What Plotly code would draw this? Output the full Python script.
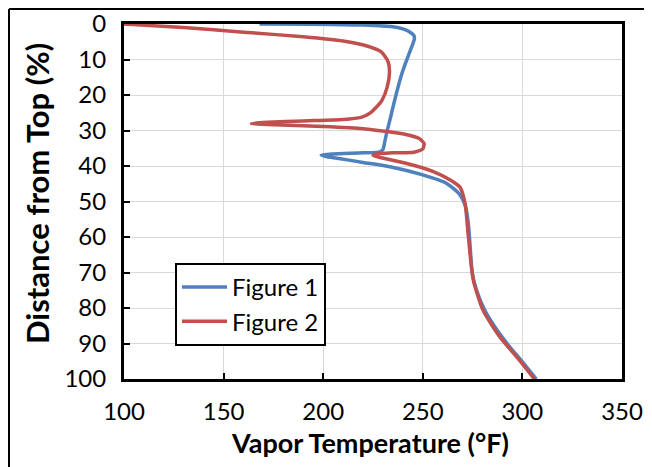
import plotly.graph_objects as go

# Figure 1 (blue)
fig1_temp = [168, 195, 220, 235, 242, 245.5, 245.8, 243.5, 241, 239.2, 237, 235.2, 233.5, 231.8, 230.8, 230, 228.5,
             220, 205, 199, 202, 207, 220, 233.5, 250, 262, 268.5, 271.5, 273, 273.8, 274.8, 277, 281, 287, 293, 300, 307]
fig1_dist = [0, 0.05, 0.3, 0.8, 1.8, 3.2, 4.2, 7.8, 11.5, 14.5, 19, 23, 27, 30.8, 33.5, 35.3, 36.0,
             36.3, 36.6, 36.9, 37.4, 37.8, 39, 40.2, 42.5, 44.9, 48, 51.5, 57, 63, 70, 75, 80.5, 86, 90.5, 95.2, 100]

# Figure 2 (red)
fig2_temp = [100, 130, 160, 190, 210, 222, 229, 232.5, 233.3, 232, 229.5, 226.5, 223, 219, 210, 190, 172, 164,
             172, 200, 220, 232, 242, 248, 250.6, 250, 245.5, 235, 226, 225, 228.5, 242, 255, 264, 268.7, 271.2,
             272.9, 275.3, 280.2, 288.5, 298.5, 306]
fig2_dist = [0, 1.0, 2.3, 3.6, 4.8, 6.2, 7.8, 10.5, 13.5, 18, 21.5, 23.5, 25.3, 26.3, 26.9, 27.3, 27.7, 28.0,
             28.3, 28.9, 29.5, 30.3, 31.2, 32.2, 33.6, 35.2, 36.1, 36.3, 36.7, 37.0, 37.6, 39.3, 41.5, 44, 46, 50.5,
             60, 72, 80.6, 88, 94.7, 100]

x_ticks = [100, 150, 200, 250, 300, 350]
y_ticks = [0, 10, 20, 30, 40, 50, 60, 70, 80, 90, 100]

FONT = "Lato"
TICK_SIZE = 24
XTITLE_SIZE = 27
YTITLE_SIZE = 31
LEGEND_SIZE = 24

fig = go.Figure()
fig.add_trace(go.Scatter(x=fig1_temp, y=fig1_dist, mode="lines", name="Figure 1",
                         line=dict(color="#4F81BD", width=3.5, shape="spline", smoothing=0.6)))
fig.add_trace(go.Scatter(x=fig2_temp, y=fig2_dist, mode="lines", name="Figure 2",
                         line=dict(color="#C0504D", width=3.5, shape="spline", smoothing=0.6)))

# page offset of the figure (browser body margin)
OFF = 8
W, H = 652 - OFF, 467 - OFF
PL, PR, PT, PB = 124, 622, 24, 379   # plot area in page pixels
L, R, T, B = PL - OFF, 652 - PR, PT - OFF, 467 - PB
pw, ph = PR - PL, PB - PT

def px_x(p):
    return (p - PL) / pw

def px_y(p):
    return (PB - p) / ph

fig.update_layout(
    width=W, height=H,
    margin=dict(l=L, r=R, t=T, b=B, autoexpand=False),
    paper_bgcolor="white", plot_bgcolor="white",
    font=dict(family=FONT, size=TICK_SIZE, color="black"),
    showlegend=True,
    legend=dict(x=px_x(175), y=px_y(263), xanchor="left", yanchor="top",
                bordercolor="black", borderwidth=2, bgcolor="white",
                font=dict(family=FONT, size=LEGEND_SIZE, color="black"),
                tracegroupgap=0, itemwidth=45),
    xaxis=dict(range=[100, 350], tickvals=x_ticks, ticktext=[str(v) for v in x_ticks],
               showgrid=True, gridcolor="#D9D9D9", gridwidth=1,
               showline=True, linecolor="black", linewidth=3, mirror=True,
               ticks="inside", ticklen=6, tickwidth=2, tickcolor="black",
               ticklabelstandoff=9, zeroline=False, automargin=False,
               tickfont=dict(family=FONT, size=TICK_SIZE, color="black")),
    yaxis=dict(range=[100, 0], tickvals=y_ticks, ticktext=[str(v) for v in y_ticks],
               showgrid=True, gridcolor="#D9D9D9", gridwidth=1,
               showline=True, linecolor="black", linewidth=3, mirror=True,
               ticks="inside", ticklen=6, tickwidth=2, tickcolor="black",
               ticklabelstandoff=10, zeroline=False, automargin=False,
               tickfont=dict(family=FONT, size=TICK_SIZE, color="black")),
    annotations=[
        dict(text="<b>Vapor Temperature (°F)</b>", xref="paper", yref="paper",
             x=px_x(370), y=px_y(442), xanchor="center", yanchor="middle", showarrow=False,
             font=dict(family=FONT, size=XTITLE_SIZE, color="black")),
        dict(text="<b>Distance from Top (%)</b>", xref="paper", yref="paper",
             x=px_x(37), y=px_y(194), xanchor="center", yanchor="middle", showarrow=False,
             textangle=-90, font=dict(family=FONT, size=YTITLE_SIZE, color="black")),
    ],
    shapes=[
        dict(type="line", xref="paper", yref="paper", x0=px_x(9), x1=px_x(9), y0=px_y(9), y1=px_y(470),
             line=dict(color="black", width=2)),
        dict(type="line", xref="paper", yref="paper", x0=px_x(9), x1=px_x(660), y0=px_y(9), y1=px_y(9),
             line=dict(color="black", width=2)),
    ],
)

fig.write_html("out.html")
